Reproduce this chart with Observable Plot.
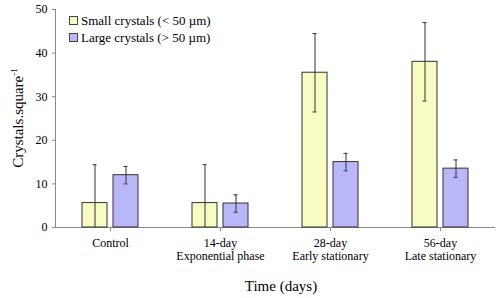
<!DOCTYPE html>
<html><head><meta charset="utf-8">
<script src="https://cdn.jsdelivr.net/npm/d3@7"></script>
<script src="https://cdn.jsdelivr.net/npm/@observablehq/plot@0.6"></script>
<style>
body{margin:0;background:#fff}
#wrap{position:relative;width:500px;height:298px;font-family:"Liberation Serif","Times New Roman",serif;color:#000}
#wrap svg{position:absolute;left:0;top:0;font-family:"Liberation Serif","Times New Roman",serif !important}
#wrap svg text{font-family:"Liberation Serif","Times New Roman",serif !important}
.leg{position:absolute;left:69px;font-size:13px;line-height:15px;white-space:nowrap}
.leg i{display:inline-block;width:7px;height:7px;border:1px solid #444;margin-right:3px;vertical-align:0px}
#ylab{position:absolute;left:18px;top:118px;transform:translate(-50%,-50%) rotate(-90deg);font-size:15px;white-space:nowrap}
#ylab sup{font-size:9px;vertical-align:6px;line-height:0}
#xlab{position:absolute;left:281px;top:278px;transform:translateX(-50%);font-size:15px;white-space:nowrap}
</style></head><body><div id="wrap"></div>
<script>
const categories = ["Control", "14-day\nExponential phase", "28-day\nEarly stationary", "56-day\nLate stationary"];
const seriesNames = ["Small crystals (< 50 µm)", "Large crystals (> 50 µm)"];
const smallMean = [5.6, 5.6, 35.5, 38];
const smallErr = [8.8, 8.8, 9, 9];
const largeMean = [12, 5.5, 15, 13.5];
const largeErr = [2, 2, 2, 2];
const yTicks = [0, 10, 20, 30, 40, 50];
const colors = ["#f9fcc2", "#bab7f9"];

const rows = categories.flatMap((c, i) => [
  {cat: c, s: seriesNames[0], v: smallMean[i], e: smallErr[i]},
  {cat: c, s: seriesNames[1], v: largeMean[i], e: largeErr[i]}
]).map(d => ({...d, lo: Math.max(0, d.v - d.e), hi: d.v + d.e}));

const font = '"Liberation Serif","Times New Roman",serif';
const chart = Plot.plot({
  width: 500, height: 298,
  marginLeft: 55, marginRight: 5, marginTop: 9, marginBottom: 71,
  style: {fontFamily: font, fontSize: "12px", color: "#000", background: "transparent", overflow: "visible"},
  fx: {domain: categories, padding: 0, label: null},
  x: {domain: seriesNames, paddingInner: 6/31, paddingOuter: 27/31, axis: null},
  y: {domain: [0, 50], label: null},
  color: {domain: seriesNames, range: colors},
  marks: [
    Plot.frame({anchor: "left", facetAnchor: "left", stroke: "#888"}),
    Plot.axisY({ticks: yTicks, tickSize: 3, tickPadding: 5, stroke: "#888", fill: "#000", label: null, fontSize: 12, fontFamily: font}),
    Plot.axisFx({anchor: "bottom", tickSize: 4, tickPadding: 6, stroke: "#888", fill: "#000", label: null, fontSize: 12, lineHeight: 1.08, fontFamily: font}),
    Plot.ruleY([0], {stroke: "#888"}),
    Plot.barY(rows, {fx: "cat", x: "s", y: "v", fill: "s", stroke: "#333", strokeWidth: 1}),
    Plot.ruleX(rows, {fx: "cat", x: "s", y1: "lo", y2: "hi", stroke: "#333"}),
    Plot.tickY(rows, {fx: "cat", x: "s", y: "hi", stroke: "#333", insetLeft: 10.5, insetRight: 10.5}),
    Plot.tickY(rows.filter(d => d.lo > 0), {fx: "cat", x: "s", y: "lo", stroke: "#333", insetLeft: 10.5, insetRight: 10.5})
  ]
});
const wrap = document.getElementById("wrap");
wrap.appendChild(chart);
seriesNames.forEach((n, i) => {
  const d = document.createElement("div");
  d.className = "leg";
  d.style.top = (13 + i * 17) + "px";
  d.innerHTML = `<i style="background:${colors[i]}"></i>`;
  d.appendChild(document.createTextNode(n));
  wrap.appendChild(d);
});
const yl = document.createElement("div");
yl.id = "ylab"; yl.innerHTML = "Crystals.square<sup>-1</sup>";
wrap.appendChild(yl);
const xl = document.createElement("div");
xl.id = "xlab"; xl.textContent = "Time (days)";
wrap.appendChild(xl);
</script></body></html>
